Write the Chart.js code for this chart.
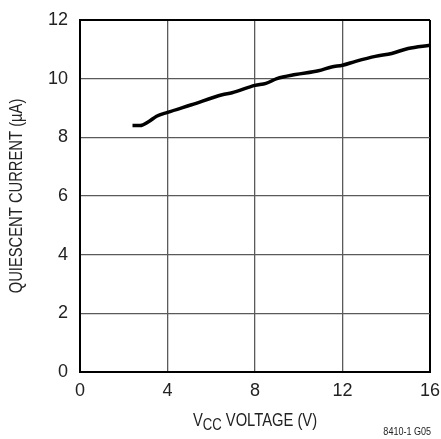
<!DOCTYPE html>
<html>
<head>
<meta charset="utf-8">
<script src="https://cdn.jsdelivr.net/npm/chart.js@4.4.1/dist/chart.umd.min.js"></script>
<style>
html,body{margin:0;padding:0;background:#fff;}
#wrap{width:441px;height:439px;}
</style>
</head>
<body>
<div id="wrap"><canvas id="c" width="441" height="439"></canvas></div>
<script>
const voltage = [2.4, 2.75, 3.15, 3.5, 4.0, 5.1, 6.5, 6.95, 8.0, 8.5, 9.0, 9.85, 10.9, 11.5, 12.0, 12.6, 13.5, 14.25, 15.0, 16.0];
const current = [8.40, 8.40, 8.54, 8.72, 8.85, 9.11, 9.45, 9.52, 9.77, 9.84, 10.0, 10.14, 10.27, 10.40, 10.46, 10.59, 10.76, 10.86, 11.03, 11.14];
const xTicks = [0, 4, 8, 12, 16];
const yTicks = [0, 2, 4, 6, 8, 10, 12];
const yTitle = 'QUIESCENT CURRENT (\u00B5A)';
const xTitleParts = ['V', 'CC', ' VOLTAGE (V)'];
const footnote = '8410-1 G05';

const FONT = "'Liberation Sans', Arial, sans-serif";
const CONDENSE = 0.82;

function condensedText(ctx, t, x, y) {
  ctx.save();
  ctx.translate(x, y);
  ctx.scale(CONDENSE, 1);
  ctx.fillText(t, 0, 0);
  ctx.restore();
}

const titlePlugin = {
  id: 'titles',
  afterDraw(chart) {
    const ctx = chart.ctx;
    const ca = chart.chartArea;
    ctx.save();
    ctx.fillStyle = '#222';
    // Y title
    ctx.font = '18px ' + FONT;
    ctx.textAlign = 'center';
    ctx.textBaseline = 'middle';
    ctx.translate(17, (ca.top + ca.bottom) / 2);
    ctx.rotate(-Math.PI / 2);
    condensedText(ctx, yTitle, 0, 0);
    ctx.restore();

    // X title with subscript
    ctx.save();
    ctx.fillStyle = '#222';
    ctx.textBaseline = 'alphabetic';
    ctx.textAlign = 'left';
    const bigF = '18px ' + FONT, smallF = '16px ' + FONT;
    ctx.font = bigF; const w0 = ctx.measureText(xTitleParts[0]).width * CONDENSE;
    ctx.font = smallF; const w1 = ctx.measureText(xTitleParts[1]).width * CONDENSE;
    ctx.font = bigF; const w2 = ctx.measureText(xTitleParts[2]).width * CONDENSE;
    const total = w0 + w1 + w2;
    let x = (ca.left + ca.right) / 2 - total / 2;
    const base = 426;
    ctx.font = bigF; condensedText(ctx, xTitleParts[0], x, base); x += w0;
    ctx.font = smallF; condensedText(ctx, xTitleParts[1], x, base + 4); x += w1;
    ctx.font = bigF; condensedText(ctx, xTitleParts[2], x, base);

    // footnote
    ctx.font = '11px ' + FONT;
    ctx.textAlign = 'right';
    condensedText(ctx, footnote, 431, 435);
    ctx.restore();
  }
};

const gridColor = (ctx, edges) => {
  const v = ctx.tick ? ctx.tick.value : null;
  return (edges.includes(v)) ? '#000' : '#5a5a5a';
};
const gridWidth = (ctx, edges) => {
  const v = ctx.tick ? ctx.tick.value : null;
  return (edges.includes(v)) ? 2 : 1.3;
};

new Chart(document.getElementById('c'), {
  type: 'line',
  data: {
    datasets: [{
      data: voltage.map((v, i) => ({x: v, y: current[i]})),
      borderColor: '#000',
      borderWidth: 3.5,
      pointRadius: 0,
      fill: false,
      cubicInterpolationMode: 'monotone',
      borderCapStyle: 'butt'
    }]
  },
  options: {
    responsive: false,
    animation: false,
    devicePixelRatio: 1,
    layout: { padding: { top: 20, right: 11, left: 0, bottom: 0 } },
    plugins: { legend: { display: false }, tooltip: { enabled: false } },
    scales: {
      x: {
        type: 'linear',
        min: 0, max: 16,
        afterBuildTicks: (s) => { s.ticks = xTicks.map(v => ({value: v})); },
        afterFit: (s) => { s.height = 67; s.paddingLeft = 0; s.paddingRight = 0; },
        grid: {
          color: (c) => gridColor(c, [0, 16]),
          lineWidth: (c) => gridWidth(c, [0, 16]),
          drawTicks: false
        },
        border: { display: true, color: '#000', width: 2 },
        ticks: { color: '#222', font: { family: FONT, size: 18 }, padding: 8, maxRotation: 0 }
      },
      y: {
        type: 'linear',
        min: 0, max: 12,
        afterBuildTicks: (s) => { s.ticks = yTicks.map(v => ({value: v})); },
        afterFit: (s) => { s.width = 80; s.paddingTop = 0; s.paddingBottom = 0; },
        grid: {
          color: (c) => gridColor(c, [0, 12]),
          lineWidth: (c) => gridWidth(c, [0, 12]),
          drawTicks: false
        },
        border: { display: true, color: '#000', width: 2 },
        ticks: { color: '#222', font: { family: FONT, size: 18 }, padding: 12 }
      }
    }
  },
  plugins: [titlePlugin]
});
</script>
</body>
</html>
